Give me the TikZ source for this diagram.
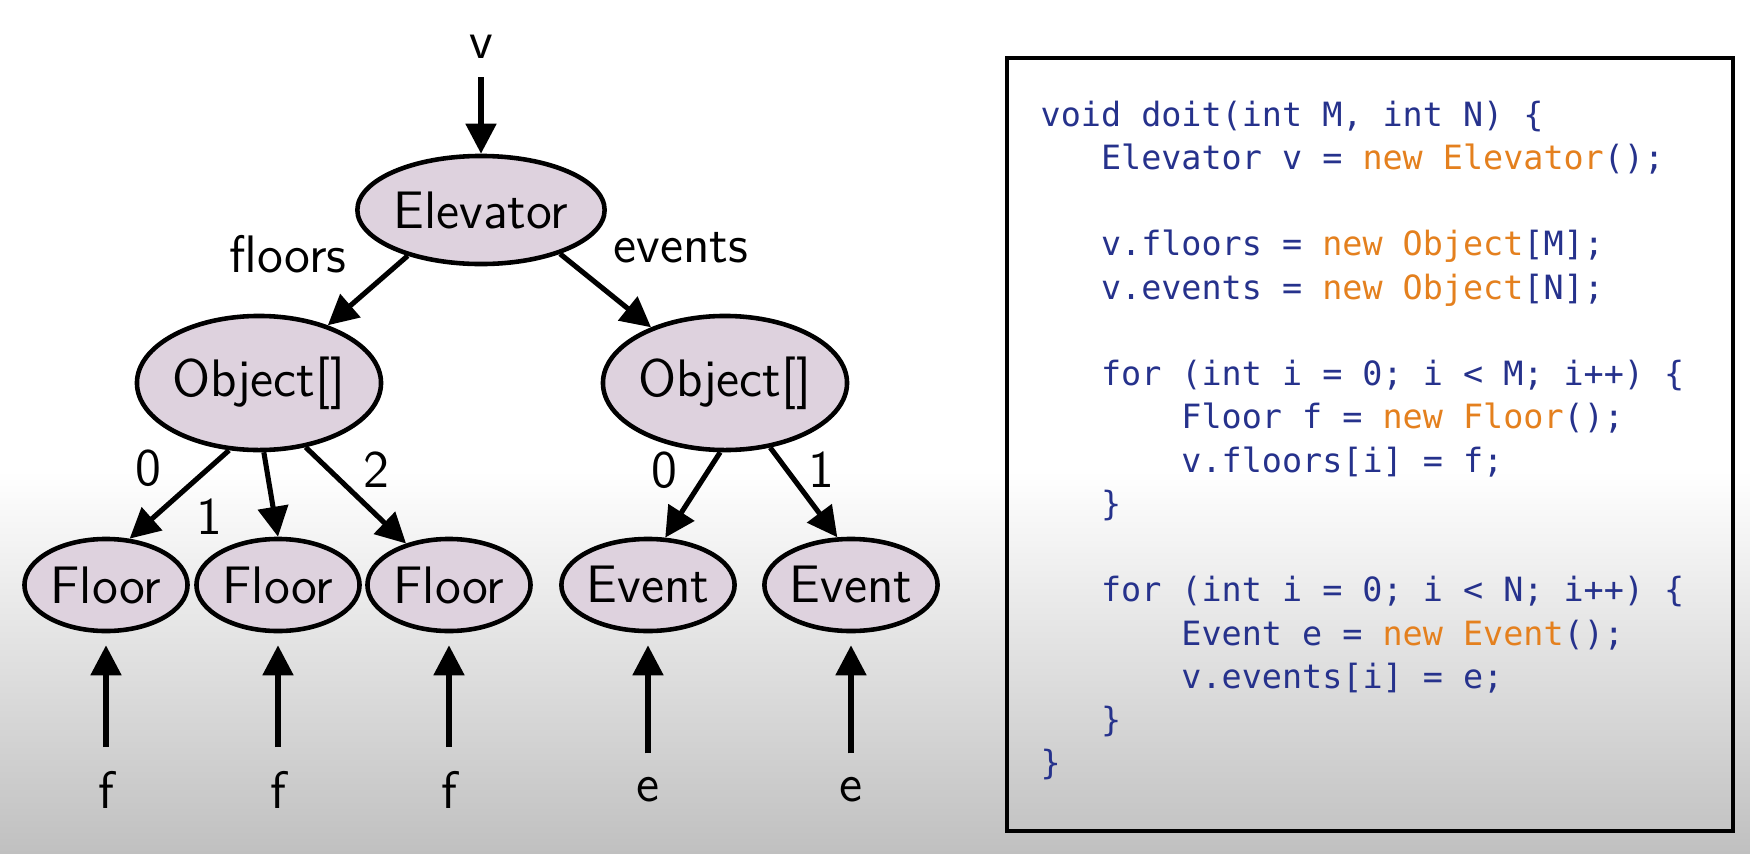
\documentclass[tikz,border=0pt]{standalone}
\usepackage{fontspec}
\newfontfamily\codefont{DejaVu Sans Mono}
\usetikzlibrary{arrows.meta,shapes.geometric,positioning}
\definecolor{codeblue}{RGB}{38,50,140}
\definecolor{codeorange}{RGB}{228,128,30}
\definecolor{blobfill}{RGB}{222,210,222}
\definecolor{shadegray}{RGB}{192,192,192}
\newcommand{\pad}[1]{\hspace*{#1\fontcharwd\font`0}}

\begin{document}
\begin{tikzpicture}[
      x=0.01cm, y=-0.01cm,
      blob/.style={ellipse, draw=black, line width=1.3pt, fill=blobfill,
                   inner sep=0pt, font=\sffamily\fontsize{15}{18}\selectfont},
      leaf/.style={blob, minimum width=1.63cm, minimum height=0.92cm},
      lbl/.style={font=\sffamily\fontsize{15}{18}\selectfont, inner sep=1pt},
      ptr/.style={-{Triangle[length=0.3cm, width=0.3cm]}, line width=1.45pt},
      back/.style={ptr, shorten <=0.2cm, shorten >=0.12cm}]
    \useasboundingbox (0,0) rectangle (1750,854);
    % slide background
    \fill[white] (0,0) rectangle (1750,470);
    \shade[top color=white, bottom color=shadegray] (0,470) rectangle (1750,854);
    % object graph
    \node[lbl] (v) at (481,47) {v};
    \node[blob, minimum width=2.25cm, minimum height=1.08cm] (elev) at (481,210) {Elevator};
    \node[blob, minimum width=2.28cm, minimum height=1.34cm] (arrF) at (259,383) {Object[]};
    \node[blob, minimum width=2.28cm, minimum height=1.34cm] (arrE) at (725,383) {Object[]};
    \foreach \x/\n in {106/1, 278/2, 449/3}{
      \node[leaf] (fl\n) at (\x,585) {Floor};
      \node[lbl] (f\n) at (\x,790) {f};
      \draw[back] (f\n) -- (fl\n);
    }
    \foreach \x/\n in {648/1, 851/2}{
      \node[leaf] (ev\n) at (\x,585) {Event};
      \node[lbl] (e\n) at (\x,790) {e};
      \draw[back] (e\n) -- (ev\n);
    }
    \draw[ptr, shorten <=4pt] (v) -- (elev);
    \draw[ptr] (elev.212) -- (arrF.40);
    \draw[ptr] (elev.-29) -- (arrE.143);
    \draw[ptr] (arrF.246) -- (fl1.63);
    \draw[ptr] (arrF.274) -- (fl2.north);
    \draw[ptr] (arrF.306) -- (fl3.136);
    \draw[ptr] (arrE.266) -- (ev1.70);
    \draw[ptr] (arrE.305) -- (ev2.106);
    % field and index labels
    \node[lbl] (lfloors) at (288,254) {floors};
    \node[lbl] (levents) at (681,248) {events};
    \node[lbl] (i0) at (148,468) {0};
    \node[lbl] (i1) at (209,517) {1};
    \node[lbl] (i2) at (376,470) {2};
    \node[lbl] (j0) at (664,470) {0};
    \node[lbl] (j1) at (821,470) {1};
    % code listing
    \draw[line width=1.3pt] (1007,58) rectangle (1733,831);
    \node[anchor=north west, inner sep=0pt, align=left, text=codeblue,
          font=\codefont\fontsize{9.5}{12.3}\selectfont] (code) at (1040,100) {%
      void doit(int M, int N) \{\\
      \pad{3}Elevator v = \textcolor{codeorange}{new Elevator}();\\[12.3pt]
      \pad{3}v.floors = \textcolor{codeorange}{new Object}[M];\\
      \pad{3}v.events = \textcolor{codeorange}{new Object}[N];\\[12.3pt]
      \pad{3}for (int i = 0; i < M; i++) \{\\
      \pad{7}Floor f = \textcolor{codeorange}{new Floor}();\\
      \pad{7}v.floors[i] = f;\\
      \pad{3}\}\\[12.3pt]
      \pad{3}for (int i = 0; i < N; i++) \{\\
      \pad{7}Event e = \textcolor{codeorange}{new Event}();\\
      \pad{7}v.events[i] = e;\\
      \pad{3}\}\\
      \}};
  \end{tikzpicture}
\end{document}
